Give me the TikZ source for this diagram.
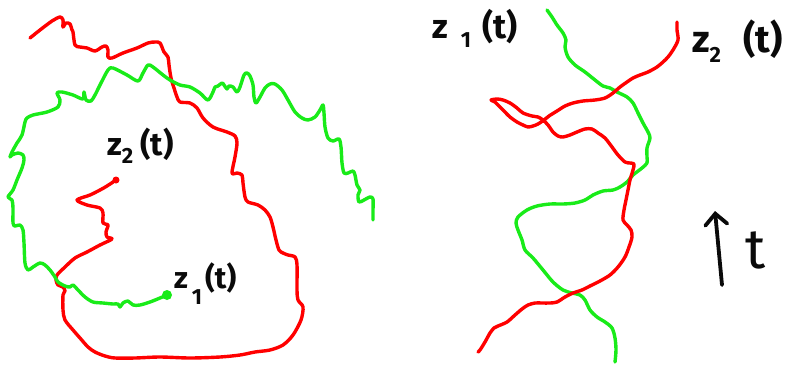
\documentclass[tikz,border=0pt]{standalone}
\usepackage{fontspec}
\setmainfont{Fira Sans}
\usepackage{xcolor}
\definecolor{penred}{RGB}{255,0,0}
\definecolor{pengreen}{RGB}{25,235,25}
\definecolor{ink}{RGB}{10,10,10}
\usepackage{tikz}
\usetikzlibrary{arrows.meta,positioning}
\tikzset{
  redpath/.style={draw=penred, line width=3.4pt, line cap=round, line join=round},
  greenpath/.style={draw=pengreen, line width=3.4pt, line cap=round, line join=round},
  enddot/.style={circle, inner sep=0pt, minimum size=#1},
  zlab/.style={anchor=base west, inner sep=0pt, text=ink, font=\bfseries\fontsize{#1}{#1}\selectfont},
}
\newcommand{\zt}[4]{z\hspace{#2}\raisebox{-#3}{\fontsize{22}{22}\selectfont #1}\hspace{#4}(t)}

\begin{document}
\begin{tikzpicture}[x=1pt, y=-1pt]
\useasboundingbox (0,0) rectangle (802,365);

% left: the two paths in the plane
\node[enddot=10pt, fill=pengreen] (gend) at (167,295) {};
\node[enddot=7pt, fill=penred] (rend) at (116,180) {};
\draw[redpath] plot[smooth, tension=0.5] coordinates {
  (30,38) (40,30) (52,21) (60,17) (63,20) (63,27) (66,23) (70,24) (72,30) (73,32)
  (75,45) (80,47) (87,48) (95,51) (102,47) (106,46) (108,50) (108,57) (112,58)
  (123,53) (137,48) (148,43) (155,42) (160,43) (164,52) (168,57) (169,65) (171,78)
  (174,88) (177,97) (180,102) (190,103) (197,108) (203,118) (213,127) (227,132)
  (235,136) (237,143) (235,157) (232,173) (237,173) (242,175) (243,183) (245,197)
  (248,202) (258,205) (265,210) (270,217) (273,227) (276,240) (279,250) (283,253)
  (288,255) (295,257) (297,265) (297,290) (298,300) (303,307) (301,320) (293,335)
  (283,345) (270,350) (255,352) (240,355) (220,357) (190,358) (160,357) (135,358)
  (115,358) (105,356) (95,352) (88,347) (80,338) (73,330) (65,320) (63,310) (63,295)
  (65,291) (63,287) (58,285) (56,280) (57,275) (65,267) (75,258) (87,252) (100,245)
  (112,239) (107,237) (106,232) (108,225) (103,223) (103,213) (100,208) (87,205)
  (77,200) (90,195) (100,190) (107,186) (rend.center)};
\draw[greenpath] plot[smooth, tension=0.5] coordinates {
  (gend.center) (160,298) (150,302) (140,305) (133,305) (128,301) (123,303) (120,307)
  (118,304) (113,304) (103,303) (93,302) (85,297) (78,290) (73,285) (70,287) (65,286)
  (58,282) (55,277) (50,270) (45,265) (40,263) (33,267) (28,270) (25,263) (24,243)
  (23,230) (20,225) (15,226) (13,223) (13,208) (12,200) (8,197) (13,190) (17,180)
  (22,168) (24,160) (23,155) (18,153) (12,155) (10,157) (12,152) (17,143) (22,135)
  (25,122) (27,118) (33,115) (47,112) (58,107) (60,100) (57,93) (62,92) (73,95)
  (83,99) (84,92) (86,100) (91,101) (95,95) (100,85) (108,70) (113,68) (127,75)
  (138,81) (143,73) (148,65) (153,67) (163,75) (170,80) (180,85) (190,87) (200,93)
  (208,100) (213,92) (215,87) (218,86) (222,83) (224,85) (227,89) (229,86) (233,87)
  (237,92) (240,87) (244,75) (247,73) (250,76) (253,85) (254,97) (256,103) (260,97)
  (265,88) (270,84) (275,84) (282,90) (288,100) (295,112) (302,118) (308,120)
  (315,117) (320,110) (323,105) (324,113) (325,127) (328,138) (333,141) (339,139)
  (341,147) (342,163) (344,173) (348,173) (353,171) (355,175) (357,185) (360,190)
  (358,195) (359,202) (364,200) (370,197) (373,199) (373,210) (373,220)};
\node[zlab=32] (lz2) at (107,155) {\zt{2}{0pt}{8pt}{7pt}};
\node[zlab=30] (lz1) at (174,288) {\zt{1}{4pt}{16pt}{3pt}};

% right: the same paths against time
\draw[greenpath] plot[smooth, tension=0.5] coordinates {
  (547,10) (552,17) (557,25) (563,33) (566,40) (565,47) (568,57) (575,65) (585,72)
  (595,80) (603,86) (610,88) (617,92) (627,97) (633,103) (638,113) (643,123)
  (648,132) (650,138) (647,148) (647,157) (647,163) (642,168) (633,175) (627,182)
  (620,187) (613,190) (603,191) (593,195) (585,200) (575,203) (563,204) (550,204)
  (537,206) (527,210) (518,217) (516,223) (518,230) (522,240) (525,250) (533,258)
  (543,270) (553,282) (563,290) (572,293) (580,295) (585,300) (590,310) (597,317)
  (605,322) (612,328) (615,338) (616,350) (615,362)};
\draw[redpath] plot[smooth, tension=0.5] coordinates {
  (677,22) (677,30) (678,40) (673,50) (668,57) (663,62) (657,67) (648,72) (640,75)
  (633,78) (627,82) (620,87) (613,93) (605,98) (595,100) (583,101) (573,103)
  (565,106) (557,111) (549,116) (544,120) (538,124) (533,126) (528,127) (523,125)
  (517,122) (510,117) (503,110) (498,105) (495,102) (491,100) (497,99) (503,100)
  (510,103) (517,108) (523,113) (532,116) (538,117) (543,120) (548,125) (553,132)
  (558,136) (563,137) (570,135) (577,132) (585,129) (592,129) (598,133) (605,138)
  (612,147) (618,155) (625,162) (630,163) (634,164) (633,170) (630,180) (628,190)
  (626,200) (624,210) (623,220) (627,225) (631,230) (632,237) (629,247) (625,257)
  (618,267) (610,275) (600,281) (590,286) (582,290) (573,293) (565,297) (557,302)
  (550,303) (542,303) (535,303) (528,305) (522,309) (515,315) (507,322) (498,326)
  (494,328) (490,333) (485,342) (480,350) (478,352)};
\node[zlab=34] (rz1) at (432,38) {\zt{1}{13pt}{9pt}{11pt}};
\node[zlab=38] (rz2) at (692,52) {\zt{2}{0pt}{10pt}{22pt}};

% time arrow
\coordinate (tfoot) at (722,285);
\coordinate (thead) at (715,211);
\draw[ink, line width=3.8pt, line cap=round, -{Straight Barb[length=11pt, width=22pt, line cap=round]}] (tfoot) -- (thead);
\node[anchor=base west, inner sep=0pt, text=ink, font=\fontsize{56}{56}\selectfont] (tlab) at (745,268) {t};
\end{tikzpicture}
\end{document}
